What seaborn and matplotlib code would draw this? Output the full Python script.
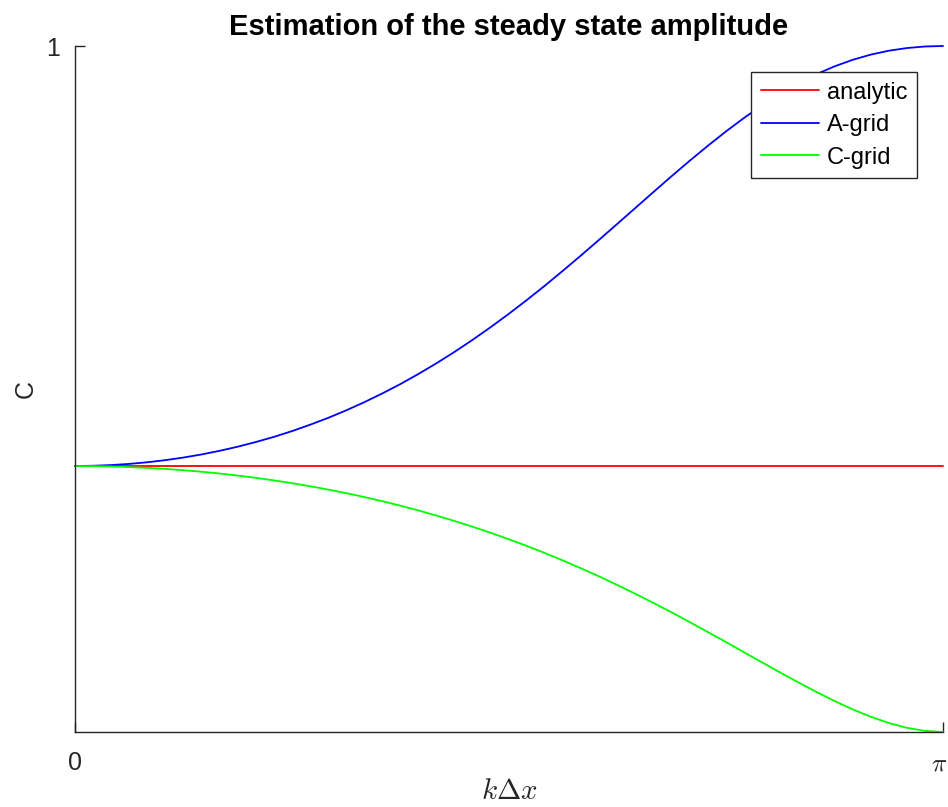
import numpy as np
import pandas as pd
import matplotlib
matplotlib.use("Agg")
import matplotlib.pyplot as plt
import matplotlib.transforms as mtransforms
import seaborn as sns

# Non-dimensional wavenumber k*dx (radians, 0..pi)
kdx = [0.0000, 0.0654, 0.1309, 0.1963, 0.2618, 0.3272, 0.3927, 0.4581,
       0.5236, 0.5890, 0.6545, 0.7199, 0.7854, 0.8508, 0.9163, 0.9817,
       1.0472, 1.1126, 1.1781, 1.2435, 1.3090, 1.3744, 1.4399, 1.5053,
       1.5708, 1.6362, 1.7017, 1.7671, 1.8326, 1.8980, 1.9635, 2.0289,
       2.0944, 2.1598, 2.2253, 2.2907, 2.3562, 2.4216, 2.4871, 2.5525,
       2.6180, 2.6834, 2.7489, 2.8143, 2.8798, 2.9452, 3.0107, 3.0761,
       3.1416]

# Steady state amplitude for each scheme
analytic = [0.3877] * len(kdx)
a_grid = [0.3877, 0.3881, 0.3891, 0.3908, 0.3932, 0.3963, 0.4001, 0.4046,
          0.4099, 0.4159, 0.4227, 0.4302, 0.4386, 0.4479, 0.4579, 0.4689,
          0.4808, 0.4936, 0.5073, 0.5220, 0.5377, 0.5543, 0.5719, 0.5904,
          0.6098, 0.6300, 0.6510, 0.6728, 0.6951, 0.7179, 0.7410, 0.7642,
          0.7874, 0.8104, 0.8329, 0.8546, 0.8755, 0.8952, 0.9136, 0.9304,
          0.9455, 0.9589, 0.9703, 0.9798, 0.9874, 0.9931, 0.9970, 0.9993,
          1.0000]
c_grid = [0.3877, 0.3876, 0.3871, 0.3862, 0.3850, 0.3835, 0.3816, 0.3794,
          0.3768, 0.3738, 0.3705, 0.3668, 0.3627, 0.3583, 0.3534, 0.3482,
          0.3425, 0.3364, 0.3299, 0.3229, 0.3154, 0.3075, 0.2991, 0.2903,
          0.2809, 0.2711, 0.2607, 0.2498, 0.2384, 0.2266, 0.2142, 0.2013,
          0.1880, 0.1743, 0.1601, 0.1457, 0.1311, 0.1162, 0.1014, 0.0867,
          0.0723, 0.0584, 0.0452, 0.0331, 0.0223, 0.0132, 0.0061, 0.0016,
          0.0000]

series_names = ["analytic", "A-grid", "C-grid"]
series_colors = ["#ff0000", "#0000ff", "#00ff00"]

df = pd.concat([
    pd.DataFrame({"kdx": kdx, "C": vals, "scheme": name})
    for name, vals in zip(series_names, [analytic, a_grid, c_grid])
], ignore_index=True)

sns.set_style("white")
plt.rcParams["font.family"] = ["Liberation Sans", "DejaVu Sans"]
plt.rcParams["mathtext.fontset"] = "cm"

ink = "#262626"

fig = plt.figure(figsize=(9.48, 8.07), dpi=100)
ax = fig.add_axes([75 / 948, 1 - 732 / 807, 868 / 948, 686 / 807])

sns.lineplot(data=df, x="kdx", y="C", hue="scheme", hue_order=series_names,
             palette=series_colors, linewidth=1.3, ax=ax, clip_on=False,
             sort=False)

ax.set_xlim(0, np.pi)
ax.set_ylim(0, 1)
ax.set_xticks([0, np.pi])
ax.set_xticklabels(["0", r"$\pi$"], fontsize=18)
ax.set_yticks([1])
ax.set_yticklabels(["1"], fontsize=18)
ax.tick_params(direction="in", length=7, width=1, color=ink,
               labelcolor=ink, bottom=True, left=True)
ax.tick_params(axis="x", pad=14)
ax.tick_params(axis="y", pad=11)

# keep the pi label inside the canvas
pi_label = ax.get_xticklabels()[1]
pi_label.set_transform(pi_label.get_transform() +
                       mtransforms.ScaledTranslation(-4 / 100, 0,
                                                     fig.dpi_scale_trans))

for side in ["top", "right"]:
    ax.spines[side].set_visible(False)
for side in ["left", "bottom"]:
    ax.spines[side].set_color(ink)
    ax.spines[side].set_linewidth(1.0)

ax.set_title("Estimation of the steady state amplitude", fontsize=21,
             fontweight="bold", pad=8, color="black")
ax.set_xlabel(r"$k\Delta x$", fontsize=21, labelpad=1, color=ink)
ax.set_ylabel("C", fontsize=18, labelpad=6, color=ink)

leg = ax.legend(loc="upper right", bbox_to_anchor=(0.970, 0.962),
                borderaxespad=0, fontsize=17, handlelength=2.45,
                handletextpad=0.35, labelspacing=0.45, frameon=True,
                fancybox=False, edgecolor=ink, framealpha=1,
                borderpad=0.4)
leg.get_frame().set_linewidth(1.0)
for line in leg.get_lines():
    line.set_linewidth(1.3)
for txt in leg.get_texts():
    txt.set_color("black")

fig.savefig("out.png", dpi=100)
